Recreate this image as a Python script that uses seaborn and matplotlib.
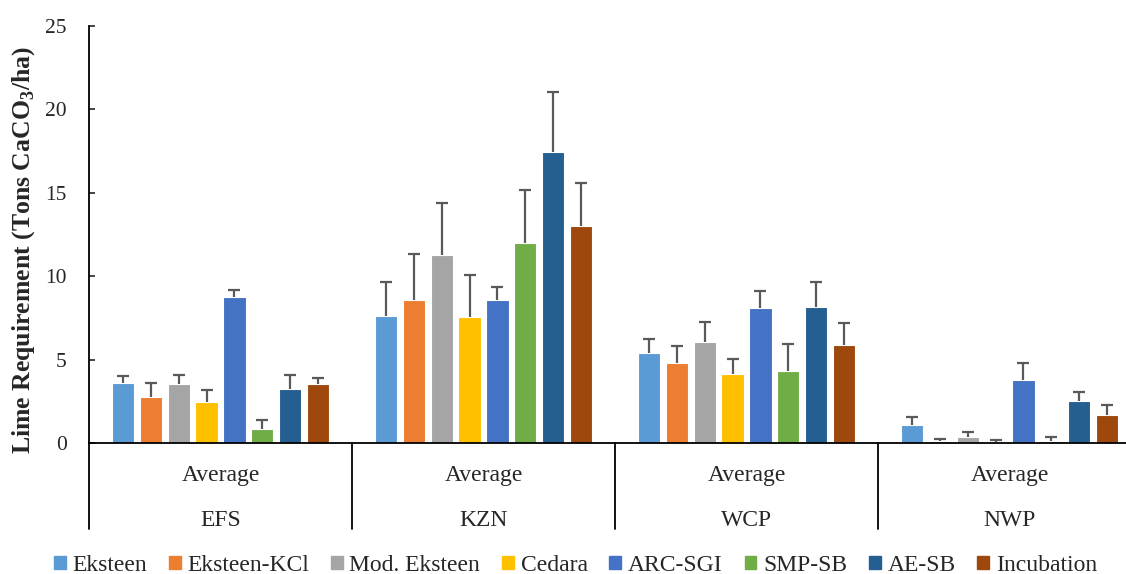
import numpy as np
import pandas as pd
import matplotlib
matplotlib.use("Agg")
import matplotlib.pyplot as plt
import seaborn as sns

# data
regions = ["EFS", "KZN", "WCP", "NWP"]
methods = ["Eksteen", "Eksteen-KCl", "Mod. Eksteen", "Cedara",
           "ARC-SGI", "SMP-SB", "AE-SB", "Incubation"]

efs_mean = [3.58, 2.76, 3.52, 2.44, 8.77, 0.86, 3.24, 3.56]
efs_err = [0.45, 0.82, 0.58, 0.72, 0.42, 0.50, 0.86, 0.34]
kzn_mean = [7.63, 8.55, 11.25, 7.55, 8.57, 12.00, 17.43, 12.99]
kzn_err = [2.04, 2.80, 3.15, 2.50, 0.78, 3.15, 3.60, 2.60]
wcp_mean = [5.41, 4.78, 6.04, 4.14, 8.09, 4.30, 8.14, 5.88]
wcp_err = [0.83, 1.02, 1.20, 0.90, 1.00, 1.62, 1.51, 1.31]
nwp_mean = [1.08, 0.10, 0.36, 0.07, 3.80, 0.14, 2.50, 1.66]
nwp_err = [0.50, 0.12, 0.32, 0.09, 1.00, 0.20, 0.56, 0.64]

colors = ["#5B9BD5", "#ED7D31", "#A5A5A5", "#FFC000",
          "#4472C4", "#70AD47", "#255E91", "#9E480E"]

means = [efs_mean, kzn_mean, wcp_mean, nwp_mean]
errs = [efs_err, kzn_err, wcp_err, nwp_err]

rows = []
for r, m_list, e_list in zip(regions, means, errs):
    for meth, m, e in zip(methods, m_list, e_list):
        rows.append({"region": r, "method": meth, "value": m, "err": e})
df = pd.DataFrame(rows)

sns.set_style("white")
plt.rcParams["font.family"] = ["Liberation Serif", "DejaVu Serif"]
plt.rcParams["mathtext.fontset"] = "custom"
plt.rcParams["mathtext.rm"] = "Liberation Serif"
plt.rcParams["mathtext.bf"] = "Liberation Serif:bold"

fig = plt.figure(figsize=(11.26, 5.74), dpi=100)
ax = fig.add_axes([89 / 1126, 131 / 574, 1052 / 1126, 417 / 574])

sns.barplot(data=df, x="region", y="value", hue="method", order=regions,
            hue_order=methods, palette=colors, saturation=1, width=0.845,
            gap=0.2, edgecolor="white", linewidth=0.8, errorbar=None, ax=ax)

# error bars (upper only) on each bar
for cont, meth in zip(ax.containers, methods):
    sub = df[df["method"] == meth].set_index("region").loc[regions]
    xs = [p.get_x() + p.get_width() / 2 for p in cont.patches]
    tops = sub["value"] + sub["err"]
    ax.vlines(xs, sub["value"], tops, color="#595959", lw=1.6, zorder=3)
    ax.plot(xs, tops, ls="none", marker="_", ms=9.2, mew=1.6,
            color="#595959", zorder=3)

ax.set_ylim(0, 25)
ax.set_xlim(-0.5, 3.5)
ax.set_yticks([0, 5, 10, 15, 20, 25])
ax.tick_params(axis="y", direction="in", length=4, width=1.2,
               labelsize=15.5, pad=16, left=True)
ax.tick_params(axis="x", bottom=False, labelbottom=False)
ax.set_xlabel("")
ax.set_ylabel("Lime Requirement (Tons CaCO$_\\mathbf{3}$/ha)",
              fontsize=18.5, fontweight="bold")
ax.yaxis.set_label_coords(-0.0494, (443 - 250) / 417)

sns.despine(ax=ax, top=True, right=True)
for s in ["left", "bottom"]:
    ax.spines[s].set_color("black")
    ax.spines[s].set_linewidth(1.3)

# category area below the axis
tr = ax.get_xaxis_transform()
ybot = -(529 - 443) / 417
for xpos in [-0.5, 0.5, 1.5, 2.5]:
    ax.plot([xpos, xpos], [0, ybot], color="black", lw=1.3,
            transform=tr, clip_on=False)
for i, r in enumerate(regions):
    ax.text(i, -(475 - 443) / 417, "Average", transform=tr,
            ha="center", va="center", fontsize=17)
    ax.text(i, -(520 - 443) / 417, r, transform=tr,
            ha="center", va="center", fontsize=17)

ax.legend_.remove()
handles = [plt.Rectangle((0, 0), 1, 1, color=c) for c in colors]
fig.legend(handles, methods, loc="center", bbox_to_anchor=(0.511, 0.015),
           ncol=8, frameon=False, fontsize=17, handlelength=0.5,
           handleheight=0.5, handletextpad=0.28, columnspacing=0.93,
           borderaxespad=0, borderpad=0)

fig.savefig("out.png", dpi=100)
